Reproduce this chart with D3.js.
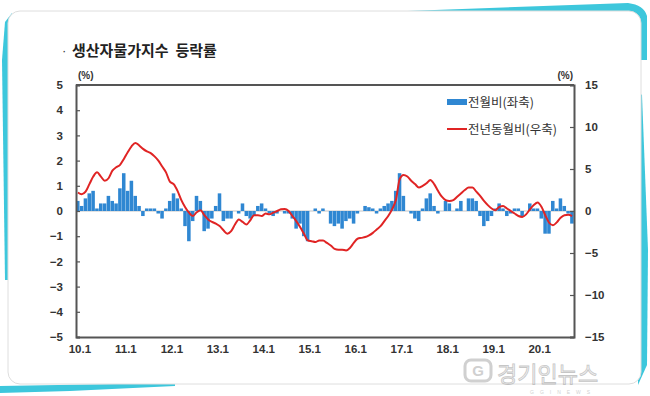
<!DOCTYPE html>
<html>
<head>
<meta charset="utf-8">
<script src="https://cdn.jsdelivr.net/npm/d3@7"></script>
<style>
    body { margin: 0; background: #fff; }
    svg { display: block; }
    text { font-family: "Liberation Sans", Arial, sans-serif; }
    .kr { font-family: "Noto Sans CJK KR", sans-serif; }
</style>
</head>
<body>
<div id="app"></div>
<script>
"use strict";

// 2010.1 ~ 2020.10, monthly
const years = [10, 11, 12, 13, 14, 15, 16, 17, 18, 19, 20];
const lastMonth = 10;

// 전월비 (left axis, %)
const momValues = [
    0.4, 0.2, 0.5, 0.7, 0.8, 0.1, 0.3, 0.3, 0.6, 0.4, 0.3, 0.9,
    1.5, 0.8, 1.2, 0.6, 0.2, -0.2, 0.1, 0.1, 0.1, -0.1, -0.3, 0.1,
    0.4, 0.7, 0.5, 0.1, -0.6, -1.2, -0.4, 0.6, 0.4, -0.8, -0.7, -0.3,
    0.2, 0.7, -0.4, -0.3, -0.3, 0.0, -0.1, 0.3, -0.2, -0.3, -0.2, 0.2,
    0.3, 0.1, -0.1, -0.2, -0.1, 0.0, -0.1, -0.1, -0.3, -0.7, -0.5, -1.0,
    -1.2, 0.0, 0.1, -0.1, 0.1, 0.0, -0.5, -0.6, -0.5, -0.7, -0.4, -0.3,
    -0.5, -0.1, 0.0, 0.2, 0.15, 0.1, -0.1, 0.1, 0.2, 0.3, 0.4, 0.8,
    1.5, 0.6, 0.0, -0.1, -0.3, -0.4, 0.1, 0.5, 0.7, 0.2, -0.1, 0.0,
    0.4, 0.3, 0.0, 0.1, 0.4, 0.0, 0.5, 0.5, 0.4, -0.2, -0.6, -0.4,
    -0.2, 0.1, 0.3, 0.1, -0.2, -0.1, 0.1, 0.1, -0.2, 0.0, 0.3, 0.1,
    0.1, -0.3, -0.9, -0.9, 0.4, 0.1, 0.5, 0.2, -0.1, -0.5
];

// 전년동월비 (right axis, %)
const yoyValues = [
    2.2, 2.0, 2.3, 3.2, 4.1, 4.6, 4.1, 3.6, 3.9, 4.8, 5.2, 5.5,
    6.2, 7.0, 7.7, 8.1, 7.8, 7.4, 7.1, 6.9, 6.5, 6.0, 5.3, 4.6,
    3.5, 3.2, 2.4, 1.3, 0.45, -0.2, -0.6, -0.15, 0.1, -0.5, -1.0, -1.3,
    -1.5, -1.8, -2.3, -2.7, -2.4, -1.6, -1.0, -1.3, -1.6, -1.1, -0.5, -0.5,
    -0.6, -0.3, -0.4, -0.2, 0.0, 0.2, 0.25, 0.0, -0.6, -1.2, -1.9, -2.7,
    -3.5, -3.6, -3.7, -3.5, -3.5, -3.8, -4.1, -4.5, -4.6, -4.6, -4.7, -4.4,
    -3.8, -3.3, -3.2, -3.1, -2.9, -2.6, -2.2, -1.8, -1.2, -0.6, 0.2, 1.3,
    3.8, 4.3, 4.1, 3.6, 3.2, 2.8, 3.0, 3.3, 3.7, 3.2, 2.4, 1.7,
    1.3, 1.2, 1.3, 1.7, 2.1, 2.5, 2.8, 2.8, 2.3, 1.8, 1.2, 0.7,
    0.3, 0.1, 0.5, 0.6, 0.3, 0.0, -0.3, -0.6, -0.7, -0.4, 0.2, 0.7,
    1.0, 0.5, -0.5, -1.4, -1.7, -1.35, -0.8, -0.5, -0.45, -0.6
];

const leftTicks = [5, 4, 3, 2, 1, 0, -1, -2, -3, -4, -5];
const rightTicks = [15, 10, 5, 0, -5, -10, -15];
const xTickLabels = ["10.1", "11.1", "12.1", "13.1", "14.1", "15.1", "16.1", "17.1", "18.1", "19.1", "20.1"];

const legendItems = ["전월비(좌축)", "전년동월비(우축)"];
const title = "생산자물가지수\u00a0\u00a0등락률";

// month keys like "10.1" .. "20.10"
let months = [];
for (let y of years) for (let m = 1; m <= 12; m++) {
    if (y == years[years.length - 1] && m > lastMonth) break;
    months.push(`${y}.${m}`);
}
let monthly = months.map((key, i) => ({ key, mom: momValues[i], yoy: yoyValues[i] }));

const W = 650, H = 396;
const plot = { left: 76, right: 574, top: 85, bottom: 337 };

const svg = d3.select("#app").append("svg").attr("width", W).attr("height", H);

// card background with cyan trims
const cyan = "#3dc7dc";
svg.append("rect").attr("width", W).attr("height", H).attr("fill", "#fff");
svg.append("path").attr("fill", cyan).attr("d", "M380,12 L628,3 Q644,5 647,16 L647,60 L600,60 L600,12 Z");
svg.append("path").attr("fill", cyan).attr("d", "M12,13 L5,22 L2,60 L5,280 L12,280 Z");
svg.append("path").attr("fill", cyan).attr("d", "M0,393 L0,386 L175,383 L175,386 L70,391 Z");
svg.append("path").attr("fill", cyan).attr("d", "M636,90 L642,95 L648,250 L647,365 L638,385 Z");
svg.append("rect")
    .attr("x", 8).attr("y", 11).attr("width", 633).attr("height", 373).attr("rx", 12)
    .attr("fill", "#fff").attr("stroke", "#dedede").attr("stroke-width", 1);

// title
svg.append("text").attr("x", 62).attr("y", 55).attr("font-size", 13).attr("fill", "#333").text("·");
svg.append("text").attr("class", "kr").attr("x", 72).attr("y", 56)
    .attr("font-size", 15).attr("font-weight", "bold").attr("fill", "#222").text(title);

const x = d3.scaleBand().domain(months).range([plot.left, plot.right]).padding(0);
const yL = d3.scaleLinear().domain([-5, 5]).range([plot.bottom, plot.top]);
const yR = d3.scaleLinear().domain([-15, 15]).range([plot.bottom, plot.top]);

// zero line
svg.append("line")
    .attr("x1", plot.left).attr("x2", plot.right).attr("y1", yL(0)).attr("y2", yL(0))
    .attr("stroke", "#b5b5b5").attr("stroke-width", 0.8);

// bars
svg.append("g").selectAll("rect")
    .data(monthly)
    .enter()
    .append("rect")
    .attr("x", d => x(d.key))
    .attr("width", x.bandwidth() - 0.3)
    .attr("y", d => yL(Math.max(0, d.mom)))
    .attr("height", d => Math.abs(yL(d.mom) - yL(0)))
    .attr("fill", "#2f87d2");

// line
const line = d3.line()
    .x(d => x(d.key) + x.bandwidth() / 2)
    .y(d => yR(d.yoy))
    .curve(d3.curveMonotoneX);
svg.append("path").datum(monthly)
    .attr("d", line).attr("fill", "none")
    .attr("stroke", "#e02424").attr("stroke-width", 2);

// axes
const axisColor = "#555";
const leftAxis = svg.append("g").attr("transform", `translate(${plot.left},0)`)
    .call(d3.axisLeft(yL).tickValues(leftTicks).tickSize(-4).tickPadding(13).tickFormat(d3.format("d")));
const rightAxis = svg.append("g").attr("transform", `translate(${plot.right},0)`)
    .call(d3.axisRight(yR).tickValues(rightTicks).tickSize(-4).tickPadding(11).tickFormat(d3.format("d")));
const bottomAxis = svg.append("g").attr("transform", `translate(0,${plot.bottom})`)
    .call(d3.axisBottom(x).tickValues(xTickLabels).tickSize(0).tickPadding(8));

for (let ax of [leftAxis, rightAxis, bottomAxis]) {
    ax.select(".domain").attr("stroke", axisColor).attr("stroke-width", 2);
    ax.selectAll(".tick line").attr("stroke", axisColor).attr("stroke-width", 1.2);
    ax.selectAll("text")
        .attr("font-family", "Liberation Sans, Arial, sans-serif")
        .attr("font-size", 11.5).attr("font-weight", "bold").attr("fill", "#333");
}
bottomAxis.selectAll("text").attr("dx", 2);

// top frame line
svg.append("line")
    .attr("x1", plot.left).attr("x2", plot.right).attr("y1", plot.top).attr("y2", plot.top)
    .attr("stroke", axisColor).attr("stroke-width", 2);

// unit labels
svg.append("text").attr("x", plot.left + 2).attr("y", 79)
    .attr("font-size", 10).attr("font-weight", "bold").attr("fill", "#333").text("(%)");
svg.append("text").attr("x", plot.right - 1).attr("y", 79).attr("text-anchor", "end")
    .attr("font-size", 10).attr("font-weight", "bold").attr("fill", "#333").text("(%)");

// legend
const legend = svg.append("g").attr("transform", "translate(447,0)");
legend.append("rect").attr("x", 0).attr("y", 99).attr("width", 20).attr("height", 6).attr("fill", "#2f87d2");
legend.append("line").attr("x1", 0).attr("x2", 20).attr("y1", 129).attr("y2", 129)
    .attr("stroke", "#e02424").attr("stroke-width", 2);
legend.selectAll("text.lg")
    .data(legendItems)
    .enter()
    .append("text")
    .attr("class", "kr lg")
    .attr("x", 21)
    .attr("y", (d, i) => 107 + i * 27)
    .attr("font-size", 12.5)
    .attr("fill", "#333")
    .text(d => d);

// watermark
const wm = svg.append("g").attr("opacity", 0.55);
wm.append("rect").attr("x", 465).attr("y", 360).attr("width", 26).attr("height", 21).attr("rx", 6)
    .attr("fill", "none").attr("stroke", "#aaa").attr("stroke-width", 3);
wm.append("text").attr("x", 478).attr("y", 376).attr("text-anchor", "middle")
    .attr("font-size", 15).attr("font-weight", "bold").attr("fill", "#aaa").text("G");
wm.append("text").attr("class", "kr").attr("x", 497).attr("y", 382)
    .attr("font-size", 22).attr("fill", "#e6e6e6").attr("stroke", "#999").attr("stroke-width", 0.8)
    .text("경기인뉴스");
wm.append("text").attr("x", 530).attr("y", 394).attr("font-size", 5).attr("letter-spacing", 6)
    .attr("fill", "#aaa").text("GGINEWS");
</script>
</body>
</html>
